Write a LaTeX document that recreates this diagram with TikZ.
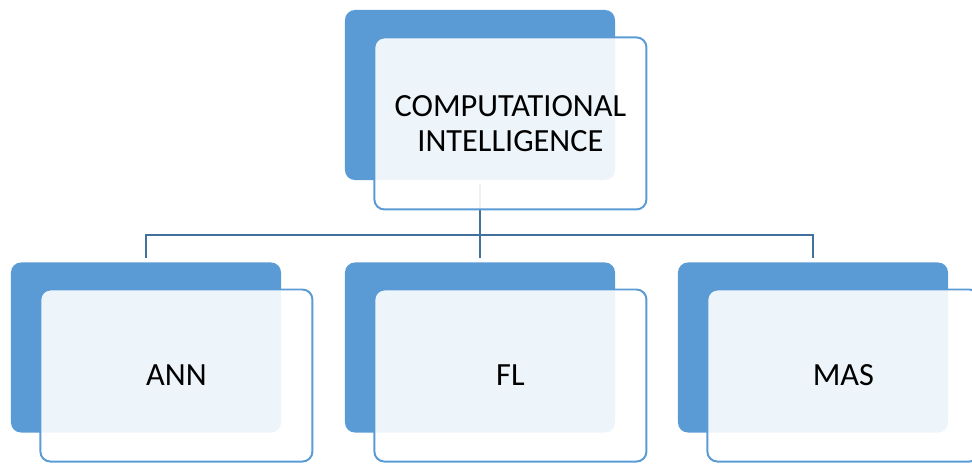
\documentclass[tikz,border=0pt]{standalone}
\usepackage{fontspec}
\setmainfont{Carlito}
\usepackage{tikz}
\definecolor{smblue}{HTML}{5B9BD5}
\definecolor{smline}{HTML}{41719C}

\begin{document}
\begin{tikzpicture}[x=0.025cm,y=-0.025cm,
    backbox/.style={fill=smblue,rounded corners=0.25cm,minimum width=6.75cm,minimum height=4.25cm,inner sep=0pt},
    frontbox/.style={draw=smblue,line width=1.4pt,fill=white,fill opacity=0.9,text opacity=1,
        rounded corners=0.25cm,minimum width=6.8cm,minimum height=4.3cm,inner sep=0pt,
        align=center,font=\fontsize{23}{25}\selectfont},
    link/.style={draw=smline,line width=1.5pt}]
     \useasboundingbox (0,0) rectangle (972,463);
     \clip (0,0) rectangle (972,463);

     %back boxes
     \node[backbox] (ci-b) at (480,95) {};
     \foreach \x/\n in {146/ann,480/fl,813/mas}  {
     	\node[backbox] (\n-b) at (\x,347.5) {};
     }

     %connectors
     \coordinate (hub) at (480,235);
     \draw[link,shorten <=0.08cm] (ci-b.south) -- (hub);
     \foreach \n in {ann,fl,mas}  {
     	\draw[link,shorten >=0.1cm] (hub) -| (\n-b.north);
     }

     %front boxes
     \node[frontbox] (ci) at ([xshift=0.76cm,yshift=-0.71cm]ci-b.center) {COMPUTATIONAL\\INTELLIGENCE};
     \foreach \n/\t in {ann/ANN,fl/FL,mas/MAS}  {
     	\node[frontbox] (\n) at ([xshift=0.76cm,yshift=-0.7cm]\n-b.center) {\t};
     }

\end{tikzpicture}
\end{document}
